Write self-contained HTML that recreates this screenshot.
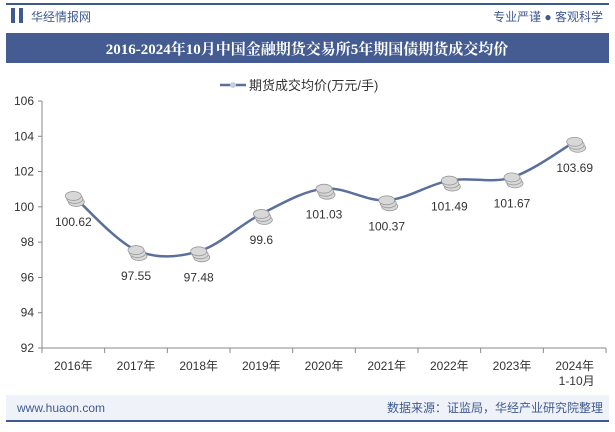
<!DOCTYPE html>
<html><head><meta charset="utf-8"><style>
body{margin:0;width:615px;height:427px;overflow:hidden;background:#fff;font-family:"Liberation Sans","Noto Sans CJK SC",sans-serif;}
</style></head><body>
<svg width="615" height="427" xmlns="http://www.w3.org/2000/svg">
<rect x="6" y="3" width="603" height="2" fill="#3f5a91"/>
<rect x="11" y="8" width="4" height="15" fill="#3f5a91"/>
<rect x="19" y="8" width="4" height="15" fill="#3f5a91"/>
<text x="31" y="21" font-size="12" fill="#3f5a91">华经情报网</text>
<text x="603" y="21" font-size="12" fill="#3f5a91" text-anchor="end">专业严谨 ● 客观科学</text>
<rect x="6" y="33" width="603" height="30" fill="#445c92"/>
<text x="307" y="54" font-size="15" font-weight="bold" fill="#fff" text-anchor="middle" font-family="Liberation Serif,'Noto Serif CJK SC',serif">2016-2024年10月中国金融期货交易所5年期国债期货成交均价</text>
<g>
<line x1="220" y1="85" x2="246" y2="85" stroke="#5a6f9c" stroke-width="2.5"/>
<circle cx="233" cy="85" r="3" fill="#c8cfdc"/>
<text x="249" y="90" font-size="13" fill="#333">期货成交均价(万元/手)</text>
</g>
<g id="axes"></g>
<g id="plot"></g>
<rect x="6" y="395" width="603" height="25" fill="#eff2f8"/>
<rect x="6" y="420" width="603" height="2" fill="#3f5a91"/>
<text x="17" y="412" font-size="12" fill="#3f5a91">www.huaon.com</text>
<text x="603" y="412" font-size="12" fill="#3f5a91" text-anchor="end">数据来源：证监局，华经产业研究院整理</text>
</svg>
<script>
const categories=["2016年","2017年","2018年","2019年","2020年","2021年","2022年","2023年","2024年"];
const values=[100.62,97.55,97.48,99.6,101.03,100.37,101.49,101.67,103.69];
const labels=["100.62","97.55","97.48","99.6","101.03","100.37","101.49","101.67","103.69"];
const yTicks=[92,94,96,98,100,102,104,106];
const NS="http://www.w3.org/2000/svg";
const x0=42,x1=606,yb=348,yt=101,ymin=92,ymax=106;
const step=(x1-x0)/categories.length;
const X=i=>x0+step*(i+0.5);
const Y=v=>yb-(v-ymin)/(ymax-ymin)*(yb-yt);
function mk(t,a,p){const e=document.createElementNS(NS,t);for(const k in a)e.setAttribute(k,a[k]);p.appendChild(e);return e;}
const ax=document.getElementById('axes'),pl=document.getElementById('plot');
const yl=mk('line',{x1:x0,y1:yt,x2:x0,y2:yb,stroke:'#888'},ax);


const xl=mk('line',{x1:x0,y1:yb,x2:x1,y2:yb,stroke:'#888'},ax);


yTicks.forEach(v=>{
 mk('line',{x1:x0-4,y1:Y(v),x2:x0,y2:Y(v),stroke:'#888'},ax);
 const t=mk('text',{x:x0-8,y:Y(v)+4,'font-size':12,fill:'#333','text-anchor':'end'},ax);t.textContent=v;
 
 
});
for(let i=0;i<=categories.length;i++)mk('line',{x1:x0+step*i,y1:yb,x2:x0+step*i,y2:yb+5,stroke:'#888'},ax);
categories.forEach((c,i)=>{
 const t=mk('text',{x:X(i),y:yb+22,'font-size':12,fill:'#333','text-anchor':'middle'},ax);t.textContent=c;
 
 
 if(i===categories.length-1){const t2=mk('text',{x:X(i)+2,y:yb+37,'font-size':12,fill:'#333','text-anchor':'middle'},ax);t2.textContent='1-10月';}
});
const P=values.map((v,i)=>[X(i),Y(v)]);
let d=`M${P[0][0]},${P[0][1]}`;
for(let i=0;i<P.length-1;i++){
 const p0=P[i-1]||P[i],p1=P[i],p2=P[i+1],p3=P[i+2]||P[i+1];const k=6;
 d+=` C${p1[0]+(p2[0]-p0[0])/k},${p1[1]+(p2[1]-p0[1])/k} ${p2[0]-(p3[0]-p1[0])/k},${p2[1]-(p3[1]-p1[1])/k} ${p2[0]},${p2[1]}`;
}
const ln=mk('path',{d:d,fill:'none',stroke:'#5a6f9c','stroke-width':2.5},pl);


P.forEach((p,i)=>{
 const g=mk('g',{},pl);
 
 
 [6,3,0].forEach(o=>{mk('ellipse',{cx:p[0]+o/2,cy:p[1]+o,rx:8,ry:4.5,fill:'#d8d8d8',stroke:'#999','stroke-width':0.8},g);});
 const t=mk('text',{x:p[0],y:p[1]+30,'font-size':12,fill:'#333','text-anchor':'middle'},pl);t.textContent=labels[i];
 
 
});
</script>
</body></html>
